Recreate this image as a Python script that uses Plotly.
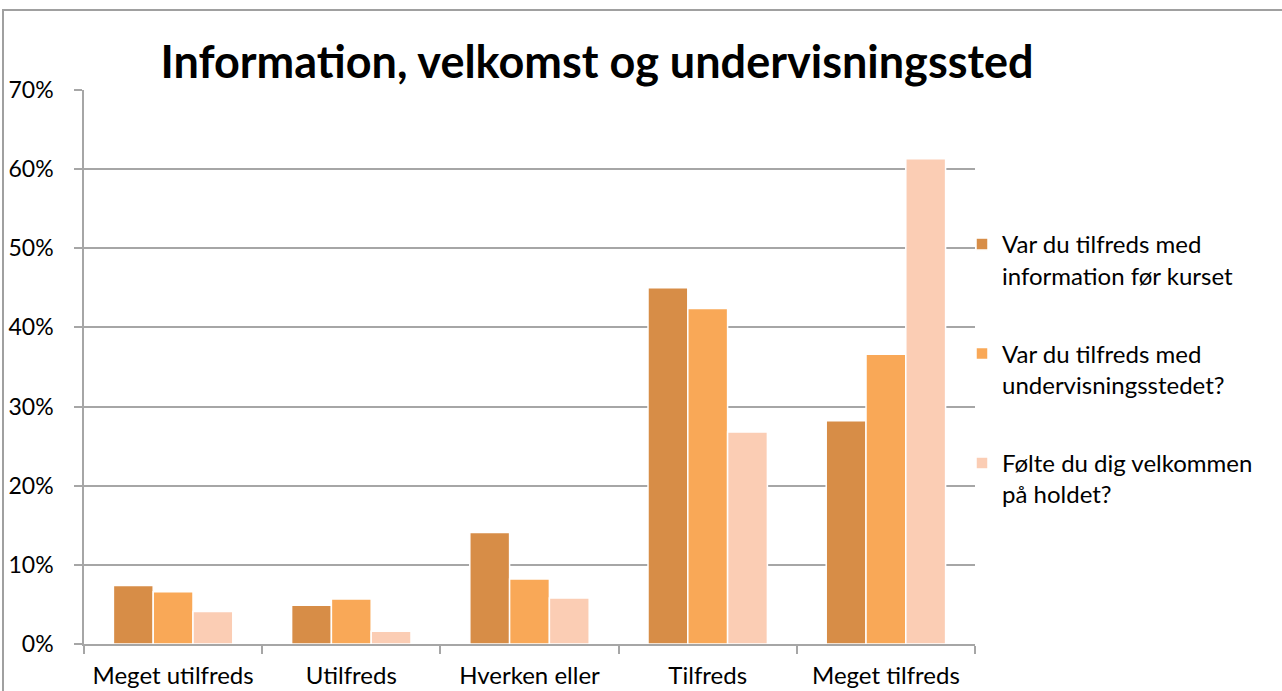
import plotly.graph_objects as go

categories = ["Meget utilfreds", "Utilfreds", "Hverken eller", "Tilfreds", "Meget tilfreds"]
series_names = [
    "Var du tilfreds med<br>information før kurset",
    "Var du tilfreds med<br>undervisningsstedet?",
    "Følte du dig velkommen<br>på holdet?",
]
info_values = [7.4, 4.9, 14.1, 45.0, 28.2]
sted_values = [6.6, 5.7, 8.2, 42.4, 36.6]
velkommen_values = [4.1, 1.6, 5.8, 26.8, 61.3]
colors = ["#D78D47", "#F9A857", "#FBCDB4"]
tick_vals = [0, 10, 20, 30, 40, 50, 60, 70]
tick_text = ["0%", "10%", "20%", "30%", "40%", "50%", "60%", "70%"]

FONT = "Lato"
fig = go.Figure()
for i, (name, vals) in enumerate(zip(series_names, [info_values, sted_values, velkommen_values])):
    fig.add_trace(go.Bar(
        x=categories, y=vals, name=name,
        marker=dict(color=colors[i], line=dict(color="white", width=1.5)),
        legendgroup=f"g{i}",
    ))

W, H = 1282, 691
L, R, T, B = 84, 975, 90, 644
fig.update_layout(
    width=W, height=H,
    margin=dict(l=L, r=W - R, t=T, b=H - B, pad=0, autoexpand=False),
    paper_bgcolor="white", plot_bgcolor="white",
    barmode="group", bargap=0.33, bargroupgap=0,
    font=dict(family=FONT, size=22, color="#000000"),
    title=dict(text="<b>Information, velkomst og undervisningssted</b>",
               font=dict(family=FONT, size=45, color="#000000"),
               x=597 / W, xanchor="center", xref="container",
               y=1 - 62 / H, yanchor="middle", yref="container"),
    legend=dict(x=(962 - L) / (R - L), xanchor="left", y=(B - 222) / (B - T), yanchor="top",
                font=dict(family=FONT, size=24), tracegroupgap=44, valign="top",
                itemwidth=30, traceorder="grouped", bgcolor="rgba(0,0,0,0)"),
    showlegend=True,
)
fig.update_yaxes(range=[0, 70], tickvals=tick_vals, ticktext=tick_text,
                 showgrid=True, gridcolor="#A6A6A6", gridwidth=1.5,
                 showline=True, linecolor="#A6A6A6", linewidth=1.5,
                 ticks="outside", ticklen=8, tickcolor="#A6A6A6", tickwidth=1.5,
                 ticklabelstandoff=16, zeroline=False, fixedrange=True, automargin=False,
                 tickfont=dict(family=FONT, size=23))
fig.update_xaxes(showline=True, linecolor="#A6A6A6", linewidth=1.5,
                 ticks="outside", ticklen=8, tickcolor="#A6A6A6", tickwidth=1.5,
                 tickson="boundaries", ticklabelstandoff=9, automargin=False, fixedrange=True,
                 tickfont=dict(family=FONT, size=24), showgrid=False)
# outer chart border
fig.add_shape(type="rect", xref="paper", yref="paper",
              x0=(3 - L) / (R - L), x1=(1290 - L) / (R - L),
              y0=(B - 700) / (B - T), y1=(B - 10) / (B - T),
              line=dict(color="#A0A0A0", width=2), fillcolor="rgba(0,0,0,0)", layer="below")
fig.write_html("out.html", config={"displayModeBar": False},
               post_script="document.body.style.margin='0';document.body.style.overflow='hidden';")
